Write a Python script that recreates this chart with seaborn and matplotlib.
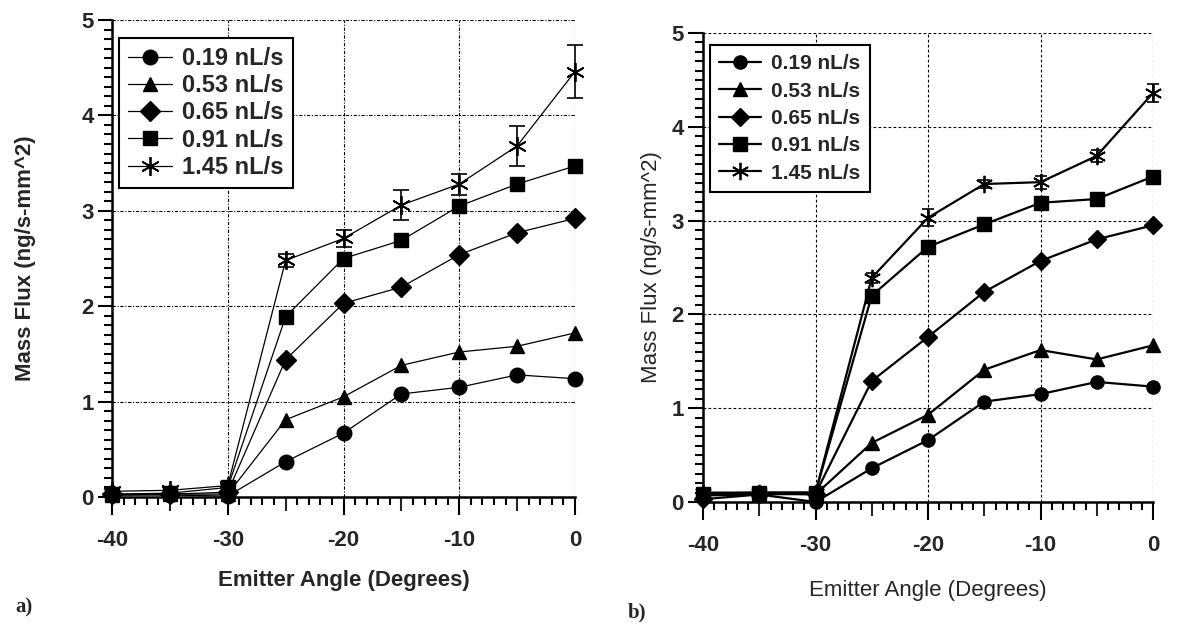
import numpy as np
import pandas as pd
import matplotlib
matplotlib.use("Agg")
import matplotlib.pyplot as plt
from matplotlib.ticker import FixedLocator, MultipleLocator
import seaborn as sns

sns.set_style("white")
plt.rcParams["font.family"] = ["Liberation Sans", "DejaVu Sans"]
plt.rcParams["axes.unicode_minus"] = False

# ---- data ----
angles = [-40, -35, -30, -25, -20, -15, -10, -5, 0]
rates = ["0.19 nL/s", "0.53 nL/s", "0.65 nL/s", "0.91 nL/s", "1.45 nL/s"]

# panel a
a_019 = [0.02, 0.02, 0.01, 0.37, 0.67, 1.08, 1.15, 1.28, 1.24]
a_053 = [0.02, 0.03, 0.03, 0.81, 1.05, 1.38, 1.52, 1.58, 1.72]
a_065 = [0.03, 0.03, 0.05, 1.44, 2.03, 2.20, 2.54, 2.77, 2.92]
a_091 = [0.03, 0.04, 0.10, 1.89, 2.50, 2.69, 3.05, 3.28, 3.47]
a_145 = [0.06, 0.07, 0.12, 2.48, 2.71, 3.06, 3.28, 3.68, 4.46]
a_145_err = [0.02, 0.03, 0.02, 0.07, 0.09, 0.16, 0.11, 0.21, 0.28]

# panel b
b_019 = [0.07, 0.08, 0.00, 0.36, 0.66, 1.07, 1.15, 1.28, 1.23]
b_053 = [0.08, 0.09, 0.08, 0.63, 0.93, 1.41, 1.62, 1.52, 1.67]
b_065 = [0.03, 0.08, 0.09, 1.29, 1.76, 2.24, 2.57, 2.80, 2.95]
b_091 = [0.09, 0.10, 0.10, 2.20, 2.72, 2.96, 3.19, 3.23, 3.47]
b_145 = [0.10, 0.10, 0.10, 2.39, 3.03, 3.39, 3.41, 3.69, 4.36]
b_145_err = [0.02, 0.02, 0.02, 0.05, 0.09, 0.04, 0.07, 0.065, 0.10]

# seaborn won't mix filled + line-art markers, so the asterisk is swapped in after
MARKERS = {"0.19 nL/s": "o", "0.53 nL/s": "^", "0.65 nL/s": "D",
           "0.91 nL/s": "s", "1.45 nL/s": "*"}
STAR = (6, 2, 0)


def long_df(series):
    rows = []
    for name, vals in zip(rates, series):
        for x, y in zip(angles, vals):
            rows.append((name, x, y))
    return pd.DataFrame(rows, columns=["rate", "angle", "flux"])


fig = plt.figure(figsize=(11.8, 6.33), dpi=100)
W, H = 1180, 633


def box(l, t, r, b):
    return [l / W, 1 - b / H, (r - l) / W, (b - t) / H]


def panel(ax, series, err, bold_all, lw, ms, grid_ls, fs, cap,
          xmaj_len, ymaj_len, leg_xy, leg_fs, leg_sp, leg_pad, leg_hl, leg_tp,
          xlab_y, ylab_x):
    df = long_df(series)
    sns.lineplot(data=df, x="angle", y="flux", hue="rate", style="rate",
                 markers=MARKERS, dashes=False, palette=["black"] * 5,
                 errorbar=None, legend=False, ax=ax, lw=lw, markersize=ms,
                 markeredgecolor="black", markeredgewidth=1.0, clip_on=False,
                 zorder=3)
    lines = list(ax.lines[:5])
    lines[4].set_marker(STAR)
    lines[4].set_markeredgewidth(1.3)
    lines[4].set_markersize(ms + 3)
    ax.errorbar(angles, series[4], yerr=err, fmt="none", ecolor="black",
                elinewidth=1.2, capsize=cap, capthick=1.2, clip_on=False, zorder=4)

    ax.set_xlim(-40, 0)
    ax.set_ylim(0, 5)
    ax.set_xticks([-40, -30, -20, -10, 0])
    ax.set_yticks([0, 1, 2, 3, 4, 5])
    ax.xaxis.set_minor_locator(FixedLocator([v for v in range(-39, 0) if v % 5 != 0]))
    ax.yaxis.set_minor_locator(MultipleLocator(0.1))
    ax.tick_params(which="both", direction="out", color="black", width=1.5,
                   bottom=True, left=True)
    ax.tick_params(axis="x", which="major", length=xmaj_len, pad=11)
    ax.tick_params(axis="y", which="major", length=ymaj_len, pad=3)
    ax.tick_params(which="minor", length=6)
    # medium ticks every 5 degrees
    sec = ax.secondary_xaxis("bottom")
    sec.set_xticks([-35, -25, -15, -5])
    sec.tick_params(length=10, width=1.5, labelbottom=False, direction="out")
    sec.spines["bottom"].set_visible(False)

    for s in ["top", "right"]:
        ax.spines[s].set_visible(False)
    for s in ["left", "bottom"]:
        ax.spines[s].set_color("black")
        ax.spines[s].set_linewidth(1.8)
    ax.grid(True, which="major", color="black", lw=0.8, ls=grid_ls)
    ax.set_axisbelow(True)

    for t in ax.get_xticklabels() + ax.get_yticklabels():
        t.set_fontsize(fs)
        t.set_fontweight("bold")

    lab_w = "bold" if bold_all else "normal"
    ax.set_xlabel("Emitter Angle (Degrees)", fontsize=16, fontweight=lab_w)
    ax.set_ylabel("Mass Flux (ng/s-mm^2)", fontsize=16, fontweight=lab_w)
    ax.xaxis.set_label_coords(0.5, xlab_y)
    ax.yaxis.set_label_coords(ylab_x, 0.5)

    leg = ax.legend(lines, rates, loc="upper left",
                    bbox_to_anchor=(leg_xy[0] / W, 1 - leg_xy[1] / H),
                    bbox_transform=fig.transFigure, borderaxespad=0,
                    fancybox=False, framealpha=1, handlelength=leg_hl,
                    handletextpad=leg_tp, labelspacing=leg_sp, borderpad=leg_pad,
                    prop={"size": leg_fs, "weight": "bold"}, numpoints=1)
    leg.get_frame().set_edgecolor("black")
    leg.get_frame().set_linewidth(1.5)


ax_a = fig.add_axes(box(112, 20, 575, 497))
panel(ax_a, [a_019, a_053, a_065, a_091, a_145], a_145_err, True, 0.9, 10.5,
      (0, (3, 1.5, 1, 1.5)), 16, 6, 13, 10, (119, 38), 17, 0.18, 0.38,
      1.85, 0.45, -0.153, -0.165)

ax_b = fig.add_axes(box(703, 33, 1153, 502))
panel(ax_b, [b_019, b_053, b_065, b_091, b_145], b_145_err, False, 1.6, 9.5,
      (0, (2.5, 2)), 16, 4, 13, 11, (710, 45), 15, 0.4, 0.45,
      2.0, 0.5, -0.166, -0.091)

fig.text(15 / W, 1 - 607 / H, "a)", family=["Liberation Serif", "DejaVu Serif"],
         fontweight="bold", fontsize=15, va="center")
fig.text(628 / W, 1 - 612 / H, "b)", family=["Liberation Serif", "DejaVu Serif"],
         fontweight="bold", fontsize=15, va="center")

fig.savefig("out.png", dpi=100, facecolor="white")
